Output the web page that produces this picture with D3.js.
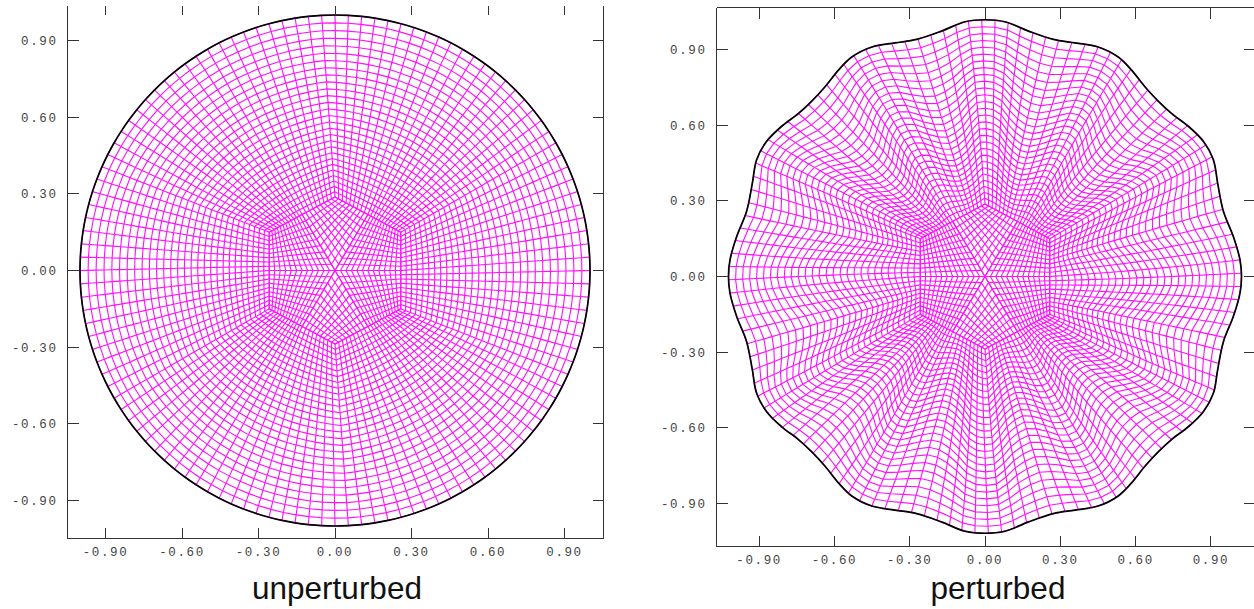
<!DOCTYPE html>
<html><head><meta charset="utf-8">
<style>html,body{margin:0;padding:0;background:#fff;overflow:hidden}svg{display:block}</style>
<script src="https://cdn.jsdelivr.net/npm/d3@7"></script></head>
<body><svg id="c" width="1254" height="609"></svg>
<script>
const tickValues = [-0.9,-0.6,-0.3,0,0.3,0.6,0.9];
const captions = ["unperturbed","perturbed"];
// first-quadrant outline of the perturbed shape (mirrored for the others)
const perturbedX = [1.022,1.016,0.989,0.950,0.927,0.910,0.870,0.810,0.744,0.690,0.637,0.584,0.531,0.451,0.359,0.272,0.173,0.080,0];
const perturbedY = [0,0.066,0.160,0.258,0.370,0.464,0.537,0.597,0.647,0.697,0.754,0.820,0.872,0.912,0.928,0.942,0.975,1.012,1.020];
const unperturbedRadius = [1];
// inner hexagon corners (right-upper and top)
const hexCornerX = [0.258,0];
const hexCornerY = [0.150,0.288];
// cell counts
const spokeSide = 12, spokeOther = 9, outerLayers = 28;

const svg = d3.select("#c");

function frame(box){
  const x = d3.scaleLinear().domain([0,1]).range([box.x0, box.x0+box.kx]);
  const y = d3.scaleLinear().domain([0,1]).range([box.y0, box.y0-box.ky]);
  return {x,y};
}
function buildHex(){
  const [cx,tx]=hexCornerX,[cy,ty]=hexCornerY;
  const C=[[cx,cy],[tx,ty],[-cx,cy],[-cx,-cy],[tx,-ty],[cx,-cy]];
  const P=[];
  for(let k=0;k<6;k++){const a=C[(k+5)%6],b=C[k];P.push([(a[0]+b[0])/2,(a[1]+b[1])/2]);}
  return {C,P};
}
const spokeN=k=>(k%3===0)?spokeSide:spokeOther;
function hexPerimeter(h){
  const out=[];
  for(let k=0;k<6;k++){
    const p=h.P[k],c=h.C[k],q=h.P[(k+1)%6];
    const n1=spokeN(k+1),n2=spokeN(k);
    for(let i=0;i<n1;i++)out.push([p[0]+(c[0]-p[0])*i/n1,p[1]+(c[1]-p[1])*i/n1]);
    for(let i=0;i<n2;i++)out.push([c[0]+(q[0]-c[0])*i/n2,c[1]+(q[1]-c[1])*i/n2]);
  }
  return out;
}
function drawPanel(box,outlineDomain,wave){
  const {x,y}=frame(box);
  const g=svg.append("g");
  const L=d3.line().x(d=>x(d[0])).y(d=>y(d[1]));
  const h=buildHex();
  const hp=hexPerimeter(h);
  const total=hp.length;
  const outlinePath=g.append("path").attr("fill","none").attr("stroke","#000").attr("stroke-width",1.7)
     .attr("d",d3.line().x(d=>x(d[0])).y(d=>y(d[1])).curve(d3.curveCatmullRomClosed)(outlineDomain));
  const node=outlinePath.node(),len=node.getTotalLength();
  const bd=d3.range(total).map(i=>{const p=node.getPointAtLength(len*i/total);return [x.invert(p.x),y.invert(p.y)];});
  const ratio=1.5,weights=d3.range(outerLayers).map(j=>1+(ratio-1)*j/(outerLayers-1));
  const sum=d3.sum(weights);
  const s=[0];weights.forEach(w=>s.push(s[s.length-1]+w/sum));
  const rad=bd.map(p=>Math.hypot(p[0],p[1]));
  const meanR=d3.mean(rad);
  const grid=d3.range(total).map(i=>s.map(t=>{
    const H=hp[i],B=bd[i];
    let px=H[0]+(B[0]-H[0])*t,py=H[1]+(B[1]-H[1])*t;
    if(wave){
      const r=Math.hypot(px,py)||1,ux=px/r,uy=py/r;
      const d=(rad[i]-meanR);
      const dT=(rad[(i+4)%total]-rad[(i-4+total)%total]);
      const a=Math.sin(Math.PI*t);
      const rr=wave.radial*d*a, tt=wave.tangent*dT*a;
      px+=ux*rr-uy*tt;py+=uy*rr+ux*tt;
    }
    return [px,py];
  }));
  const mesh=g.insert("g","path").attr("fill","none").attr("stroke","#ff10ff").attr("stroke-width",1.1);
  mesh.selectAll("path.r").data(grid).join("path").attr("d",L);
  s.forEach((t,j)=>{const ring=grid.map(col=>col[j]);mesh.append("path").attr("d",L.curve(d3.curveLinearClosed)(ring));});
  L.curve(d3.curveLinear);
  for(let k=0;k<6;k++){
    const A=h.P[k],C=h.C[k],B=h.P[(k+1)%6],O=[0,0];
    const na=spokeN(k),nb=spokeN(k+1);
    const bil=(u,v)=>[(1-u)*(1-v)*O[0]+u*(1-v)*A[0]+u*v*C[0]+(1-u)*v*B[0],(1-u)*(1-v)*O[1]+u*(1-v)*A[1]+u*v*C[1]+(1-u)*v*B[1]];
    for(let i=0;i<=na;i++)mesh.append("path").attr("d",L([bil(i/na,0),bil(i/na,1)]));
    for(let j=0;j<=nb;j++)mesh.append("path").attr("d",L([bil(0,j/nb),bil(1,j/nb)]));
  }
  const F=g.append("g").attr("stroke","#333").attr("stroke-width",1).attr("shape-rendering","crispEdges").attr("fill","none");
  F.append("line").attr("x1",box.left).attr("x2",box.left).attr("y1",box.top).attr("y2",box.bottom);
  F.append("line").attr("x1",box.right).attr("x2",box.right).attr("y1",box.top).attr("y2",box.bottom);
  F.append("line").attr("x1",box.left).attr("x2",box.right).attr("y1",box.bottom).attr("y2",box.bottom);
  if(box.topLine)F.append("line").attr("x1",box.left).attr("x2",box.right).attr("y1",box.top).attr("y2",box.top);
  const tl=box.bottomTick;
  tickValues.forEach(v=>{
    F.append("line").attr("x1",x(v)).attr("x2",x(v)).attr("y1",box.bottom).attr("y2",box.bottom-tl);
    F.append("line").attr("x1",x(v)).attr("x2",x(v)).attr("y1",box.top).attr("y2",box.top+box.topTick);
    F.append("line").attr("y1",y(v)).attr("y2",y(v)).attr("x1",box.left).attr("x2",box.left+tl);
    F.append("line").attr("y1",y(v)).attr("y2",y(v)).attr("x1",box.right).attr("x2",box.right-tl);
  });
  const T=g.append("g").attr("font-family","'Liberation Mono','DejaVu Sans Mono',monospace").attr("font-size",12.5).attr("fill","#444").attr("letter-spacing",1.6);
  tickValues.forEach(v=>{
    const s=d3.format(".2f")(v).replace("−","-");
    T.append("text").attr("x",x(v)).attr("y",box.bottom+17).attr("text-anchor","middle").text(s);
    T.append("text").attr("x",box.left-10).attr("y",y(v)+4.5).attr("text-anchor","end").text(s);
  });
  g.append("text").attr("x",box.capX).attr("y",599).attr("text-anchor","middle").attr("font-family","'Liberation Sans',Arial,sans-serif").attr("font-size",31.5).attr("fill","#111").text(box.caption);
}
const circle=d3.range(120).map(i=>{const a=i/120*2*Math.PI;return [unperturbedRadius[0]*Math.cos(a),unperturbedRadius[0]*Math.sin(a)];});
const q1=perturbedX.map((v,i)=>[v,perturbedY[i]]);
const q2=q1.slice(0,-1).reverse().map(p=>[-p[0],p[1]]);
const q3=q1.slice(1).map(p=>[-p[0],-p[1]]);
const q4=q1.slice(1,-1).reverse().map(p=>[p[0],-p[1]]);
const outline=[...q1,...q2,...q3,...q4];

drawPanel({x0:335,y0:270.5,kx:255,ky:255.5,left:67.5,right:603.5,top:5.5,bottom:538.5,topLine:false,topTick:9,bottomTick:11,capX:337,caption:captions[0]},circle,null);
drawPanel({x0:985,y0:276.5,kx:251,ky:251.7,left:716.5,right:1254.5,top:7.5,bottom:546.5,topLine:true,topTick:11,bottomTick:11,capX:998,caption:captions[1]},outline,{radial:1.7,tangent:0.2});
</script></body></html>
